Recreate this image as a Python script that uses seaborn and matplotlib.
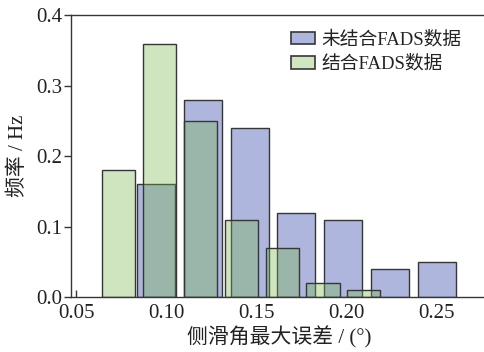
import numpy as np
import pandas as pd
import matplotlib
matplotlib.use("Agg")
import matplotlib.pyplot as plt
from matplotlib.patches import Patch
import seaborn as sns

# Bin centres and relative frequencies of the maximum sideslip-angle error
centers_without = [0.0944, 0.1203, 0.1463, 0.1722, 0.1982, 0.2241, 0.2501]
freq_without = [0.16, 0.28, 0.24, 0.12, 0.11, 0.04, 0.05]

centers_with = [0.0736, 0.0963, 0.1190, 0.1417, 0.1643, 0.1870, 0.2097]
freq_with = [0.18, 0.36, 0.25, 0.11, 0.07, 0.02, 0.01]

series_labels = ["未结合FADS数据", "结合FADS数据"]
xticks = [0.05, 0.10, 0.15, 0.20, 0.25]
yticks = [0.0, 0.1, 0.2, 0.3, 0.4]

sns.set_theme(style="ticks")
plt.rcParams["font.family"] = ["Liberation Serif", "Noto Sans CJK SC", "DejaVu Sans"]
plt.rcParams["axes.unicode_minus"] = False

EDGE = "#363636"
BLUE = (0.682, 0.714, 0.871, 1.0)
GREEN = (0.467, 0.718, 0.286, 0.35)
BLUE_LEG = "#aeb6de"
GREEN_LEG = "#d0e6c0"


def edges_from_centers(c):
    c = np.asarray(c, dtype=float)
    step = float(np.mean(np.diff(c)))
    return [float(v) for v in np.concatenate([c - step / 2, [c[-1] + step / 2]])]


fig = plt.figure(figsize=(4.84, 3.52), dpi=100)
ax = fig.add_axes([0.146, 0.156, 0.860, 0.800])

for centers, freqs, face in [(centers_without, freq_without, BLUE),
                             (centers_with, freq_with, GREEN)]:
    df = pd.DataFrame({"err": centers, "freq": freqs})
    n_before = len(ax.patches)
    sns.histplot(data=df, x="err", weights="freq", bins=edges_from_centers(centers),
                 shrink=0.81, stat="count", ax=ax, element="bars", fill=True)
    for p in ax.patches[n_before:]:
        p.set_alpha(None)
        p.set_facecolor(face)
        p.set_edgecolor(EDGE)
        p.set_linewidth(1.0)

ax.set_xlim(0.0469, 0.278)
ax.set_ylim(0.0, 0.4)
ax.set_xticks(xticks)
ax.set_xticklabels([f"{v:.2f}" for v in xticks])
ax.set_yticks(yticks)
ax.set_yticklabels([f"{v:.1f}" for v in yticks])

ax.tick_params(axis="x", direction="in", length=5, width=1.0, color=EDGE,
               labelsize=15, pad=5, labelcolor="#222222")
ax.tick_params(axis="y", direction="out", length=5, width=1.0, color=EDGE,
               labelsize=15, pad=1, labelcolor="#222222")
for s in ax.spines.values():
    s.set_color(EDGE)
    s.set_linewidth(1.0)
ax.spines["right"].set_visible(False)

ax.set_xlabel("侧滑角最大误差 / (°)", fontsize=15, labelpad=2, color="#222222")
ax.set_ylabel("频率 / Hz", fontsize=15, labelpad=6, color="#222222")

handles = [Patch(facecolor=BLUE_LEG, edgecolor=EDGE, linewidth=1.2),
           Patch(facecolor=GREEN_LEG, edgecolor=EDGE, linewidth=1.2)]
ax.legend(handles, series_labels, loc="upper left",
          bbox_to_anchor=(291 / 484, 1 - 31 / 352), bbox_transform=fig.transFigure,
          frameon=False, fontsize=13.5, handlelength=1.3, handleheight=0.65,
          handletextpad=0.3, labelspacing=0.35, borderpad=0, borderaxespad=0,
          labelcolor="#222222")

fig.savefig("out.png", dpi=100)
